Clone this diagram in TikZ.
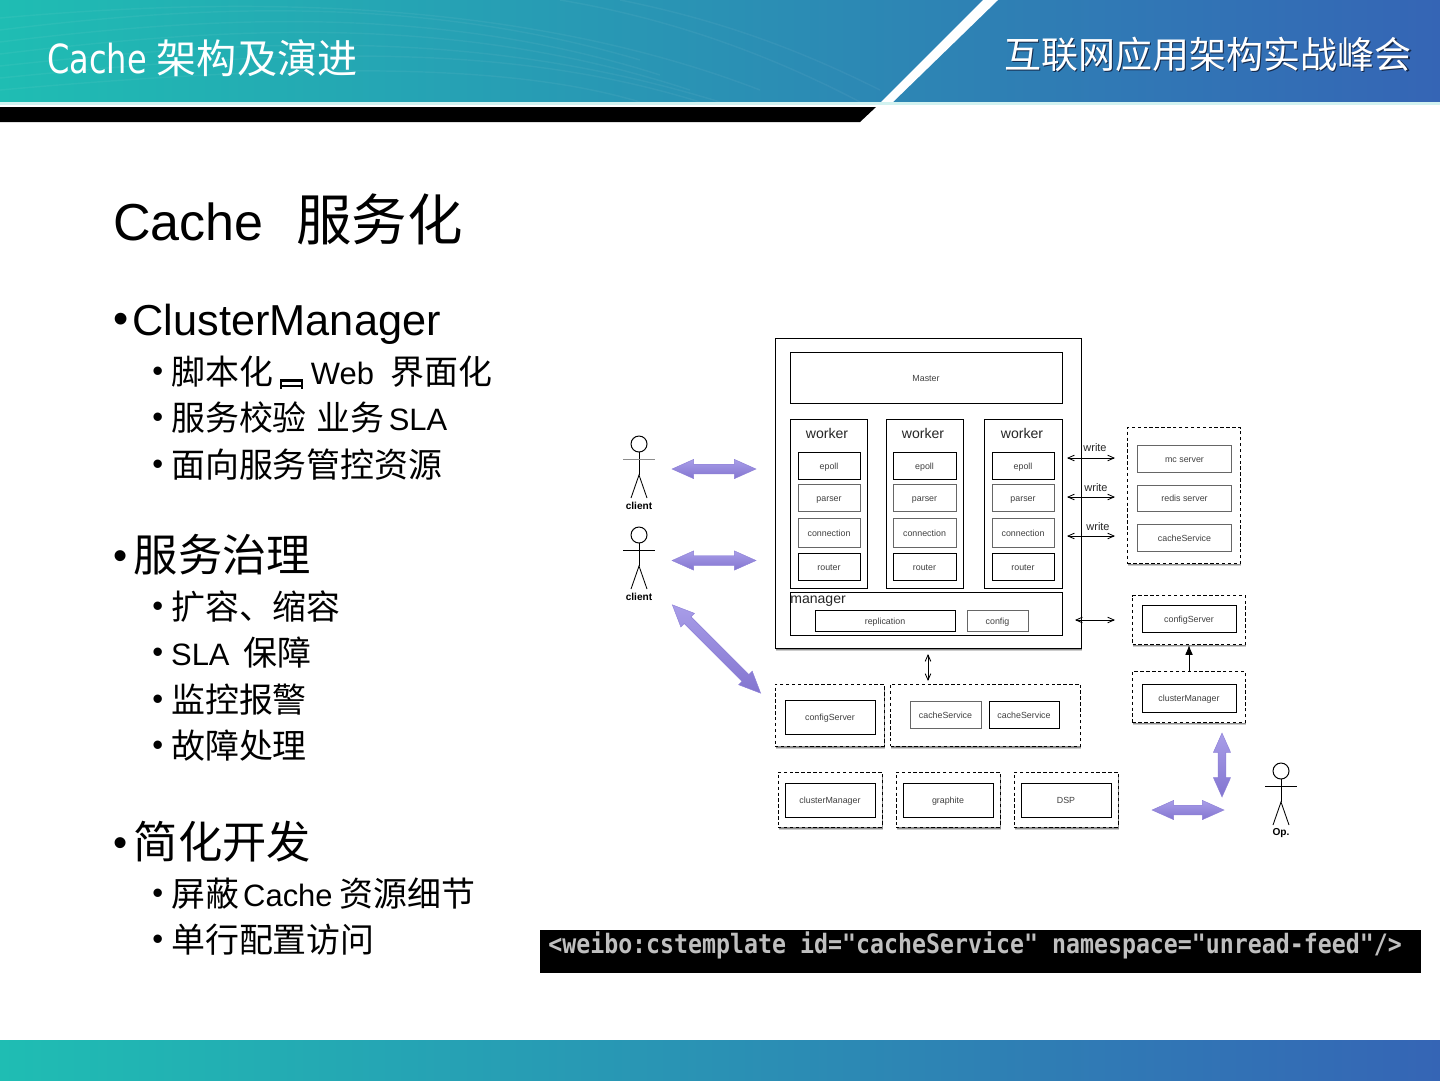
\documentclass[tikz,border=0pt]{standalone}
\usepackage{fontspec}
\setmainfont{Liberation Sans}
\newfontfamily\zh[Scale=1.097]{Noto Sans CJK SC}
\newfontfamily\headfont[FakeStretch=0.8]{DejaVu Sans}
\newfontfamily\codefont[FakeStretch=0.87]{DejaVu Sans Mono}
\usetikzlibrary{arrows.meta,shapes.arrows}
\definecolor{bandleft}{HTML}{1FBDB3}
\definecolor{bandmid}{HTML}{1AA0B8}
\definecolor{bandright}{HTML}{3565B5}
\definecolor{fatline}{HTML}{8C7FD6}
\definecolor{fattop}{HTML}{A89DE8}
\definecolor{fatbottom}{HTML}{8375D0}
\newcommand{\bulA}{\raisebox{1pt}{•}\kern3pt}
\newcommand{\bulB}{\raisebox{2pt}{•}\kern5.7pt}

\begin{document}
\begin{tikzpicture}[
  x=0.025cm,y=-0.025cm,
  wh/.style 2 args={minimum width=#1*0.025cm,minimum height=#2*0.025cm},
  titletext/.style={anchor=base west,inner sep=0pt,font=\fontsize{37}{40}\selectfont},
  lvlA/.style={anchor=base west,inner sep=0pt,font=\fontsize{28.7}{32}\selectfont},
  lvlB/.style={anchor=base west,inner sep=0pt,font=\fontsize{22}{26}\selectfont},
  box/.style={draw=black,line width=0.7pt,inner sep=0pt,text=black!75,text height=5.2pt,text depth=0pt,font=\fontsize{6.3}{8}\selectfont},
  softbox/.style={box,draw=black!60},
  softshadow/.style={
    preaction={draw=none,fill=black,fill opacity=0.2,transform canvas={xshift=0.5pt,yshift=-2.1pt}},
    preaction={draw=none,fill=black,fill opacity=0.3,transform canvas={xshift=0.5pt,yshift=-1.3pt}}},
  dashbox/.style={draw=black,dash pattern=on 2.4pt off 1.8pt,line width=0.7pt,fill=white,inner sep=0pt,softshadow},
  bigtext/.style={inner sep=0pt,text=black!85,font=\fontsize{10}{12}\selectfont},
  smalltext/.style={inner sep=0pt,text=black!85,font=\fontsize{7.8}{9}\selectfont},
  link/.style={{Straight Barb[length=4.5pt,width=4pt]}-{Straight Barb[length=4.5pt,width=4pt]},line width=0.6pt,black},
  wave/.style={white,opacity=0.05,line width=1pt},
  fatarrow/.style={shape=double arrow,inner xsep=0pt,inner ysep=3.2pt,minimum width=13.7pt,double arrow head extend=3.4pt,
    double arrow tip angle=48,draw=fatline,line width=0.3pt,top color=fattop,bottom color=fatbottom},
  pics/actor/.style 2 args={code={
    \draw[black,line width=0.7pt] (0,8)--(0,31);
    \draw[black,line width=0.7pt,fill=white] (0,0) circle [radius=8];
    \draw[#2,line width=0.7pt] (-16,15)--(16,15);
    \draw[black,line width=0.6pt] (-8,54)--(0,31)--(8,54);
    \node[inner sep=0pt,font=\fontsize{7.2}{9}\selectfont\bfseries] (-label) at (0,62) {#1};
  }},
]
\useasboundingbox (0,0) rectangle (1440,1080);
\fill[white] (0,0) rectangle (1440,1080);

% header and footer
\shade[left color=bandleft,middle color=bandmid,right color=bandright] (0,0) rectangle (1440,102);
\begin{scope}
\clip (0,0) rectangle (900,102);
\draw[wave] (0,30) .. controls (200,5) and (420,-5) .. (640,60);
\draw[wave] (0,42) .. controls (220,15) and (440,5) .. (660,75);
\draw[wave] (0,54) .. controls (240,25) and (460,15) .. (690,90);
\draw[wave] (0,66) .. controls (260,38) and (480,28) .. (720,102);
\draw[wave] (0,78) .. controls (280,50) and (500,40) .. (700,102);
\draw[wave] (0,90) .. controls (280,65) and (500,60) .. (640,102);
\draw[wave] (0,18) .. controls (200,0) and (500,-10) .. (760,90);
\draw[wave] (560,0) .. controls (680,20) and (780,60) .. (860,102);
\draw[wave] (620,0) .. controls (720,20) and (800,50) .. (880,90);
\end{scope}
\fill[black] (0,107)--(876,107)--(860,122)--(0,122)--cycle;
\fill[white] (983,0)--(998,0)--(893,102)--(881,102)--cycle;
\fill[white!80!bandleft] (0,102) rectangle (1440,105);
\shade[left color=bandleft,middle color=bandmid,right color=bandright] (0,1040) rectangle (1440,1080);
\node[anchor=base west,inner sep=0pt,text=white,font=\fontsize{26}{30}\selectfont] (headLeft) at (47,73)
  {{\headfont\fontsize{28.5}{30}\selectfont Cache}\hspace{7pt}{\zh 架构及演进}};
\node[anchor=base west,inner sep=0pt,text=black!60!bandright,font=\fontsize{24}{28}\selectfont] (headShadow) at (1005.5,69.5)
  {\zh 互联网应用架构实战峰会};
\node[anchor=base west,inner sep=0pt,text=white,font=\fontsize{24}{28}\selectfont] (headRight) at (1004,68)
  {\zh 互联网应用架构实战峰会};

% left column
\node[titletext] (slideTitle) at (113,240) {Cache\hspace{23pt}{\zh\fontsize{36}{40}\selectfont 服务化}};
\node[lvlA,font=\fontsize{30.8}{36}\selectfont] (itemCluster) at (113,335) {\bulA ClusterManager};
\node[lvlB] (itemScript) at (152,384) {\bulB{\zh 脚本化}\hspace{27pt}Web\hspace{12pt}{\zh 界面化}};
\draw[black,line width=1.5pt] (281,389)--(281,380.5)--(302,380.5)--(302,389);
\draw[black,line width=1.2pt] (281,386)--(302,386);
\node[lvlB] (itemCheck) at (152,430) {\bulB{\zh 服务校验}\hspace{7pt}{\zh 业务}\hspace{3pt}SLA};
\node[lvlB] (itemFace) at (152,477) {\bulB{\zh 面向服务管控资源}};
\node[lvlA] (itemGovern) at (113,571) {\bulA\kern1.5pt{\zh 服务治理}};
\node[lvlB] (itemScale) at (152,619) {\bulB{\zh 扩容、缩容}};
\node[lvlB] (itemSla) at (152,665) {\bulB SLA\hspace{10pt}{\zh 保障}};
\node[lvlB] (itemAlarm) at (152,712) {\bulB{\zh 监控报警}};
\node[lvlB] (itemFault) at (152,758) {\bulB{\zh 故障处理}};
\node[lvlA] (itemSimple) at (113,858) {\bulA\kern1.5pt{\zh 简化开发}};
\node[lvlB] (itemHide) at (152,906) {\bulB{\zh 屏蔽}\hspace{3pt}Cache\hspace{5pt}{\zh 资源细节}};
\node[lvlB] (itemLine) at (152,952) {\bulB{\zh 单行配置访问}};

% code strip
\fill[black] (540,930) rectangle (1421,973);
\node[anchor=base west,inner sep=0pt,text=black!25,font=\codefont\bfseries\fontsize{19}{22}\selectfont] (codeLine) at (548,953)
  {<weibo:cstemplate id="cacheService" namespace="unread-feed"/>};

% main cluster
\node[box,wh={306}{310},fill=white,softshadow] (cluster) at (928,493) {};
\node[box,wh={272}{51}] (master) at (926,377.5) {Master};
\node[box,wh={77}{169}] (workerA) at (828.5,503.5) {};
\node[box,wh={77}{169}] (workerB) at (924.5,503.5) {};
\node[box,wh={78}{169}] (workerC) at (1023,503.5) {};
\node[bigtext] (workerAtext) at (827,433) {worker};
\node[bigtext] (workerBtext) at (923,433) {worker};
\node[bigtext] (workerCtext) at (1022,433) {worker};
\node[box,wh={62}{27}] (epollA) at (829,466) {epoll};
\node[softbox,wh={62}{27}] (parserA) at (829,498) {parser};
\node[softbox,wh={62}{29}] (connA) at (829,532.5) {connection};
\node[box,wh={62}{27}] (routerA) at (829,567) {router};
\node[box,wh={63}{27}] (epollB) at (924.5,466) {epoll};
\node[softbox,wh={63}{27}] (parserB) at (924.5,498) {parser};
\node[softbox,wh={63}{29}] (connB) at (924.5,532.5) {connection};
\node[box,wh={63}{27}] (routerB) at (924.5,567) {router};
\node[box,wh={62}{27}] (epollC) at (1023,466) {epoll};
\node[softbox,wh={62}{27}] (parserC) at (1023,498) {parser};
\node[softbox,wh={62}{29}] (connC) at (1023,532.5) {connection};
\node[box,wh={62}{27}] (routerC) at (1023,567) {router};
\node[box,wh={272}{43}] (manager) at (926,613.5) {};
\node[bigtext,anchor=west] (managerText) at (790,601.5) {manager};
\node[box,wh={140}{21}] (replication) at (885,620.5) {replication};
\node[softbox,wh={61}{21}] (config) at (997.5,620.5) {config};

% right side stores
\node[dashbox,wh={113}{136}] (storeGroup) at (1184,495.5) {};
\node[softbox,wh={94}{27}] (mcServer) at (1184.5,459) {mc server};
\node[softbox,wh={94}{26}] (redisServer) at (1184.5,498) {redis server};
\node[softbox,wh={94}{27}] (storeCache) at (1184.5,538) {cacheService};
\node[dashbox,wh={113}{49}] (cfgRight) at (1189,620) {};
\node[box,wh={94}{27}] (cfgRightIn) at (1189,619) {configServer};
\node[dashbox,wh={113}{51}] (cmRight) at (1189,697) {};
\node[box,wh={94}{28}] (cmRightIn) at (1189,698) {clusterManager};

% lower groups
\node[dashbox,wh={109}{62}] (cfgLow) at (829.5,715) {};
\node[box,wh={90}{34}] (cfgLowIn) at (830,717) {configServer};
\node[dashbox,wh={190}{62}] (cacheLow) at (985.5,715) {};
\node[softbox,wh={71}{27}] (cacheLowA) at (945.5,715) {cacheService};
\node[box,wh={70}{27}] (cacheLowB) at (1024,715) {cacheService};
\node[dashbox,wh={104}{55}] (cmLow) at (830,799.5) {};
\node[box,wh={90}{34}] (cmLowIn) at (830,800) {clusterManager};
\node[dashbox,wh={104}{55}] (graphiteLow) at (948,799.5) {};
\node[box,wh={90}{34}] (graphiteIn) at (948,800) {graphite};
\node[dashbox,wh={104}{55}] (dspLow) at (1066,799.5) {};
\node[box,wh={90}{34}] (dspIn) at (1066,800) {DSP};

% thin connectors
\coordinate (writeAl) at (1067,458);
\coordinate (writeAr) at (1115,458);
\coordinate (writeBl) at (1067,497);
\coordinate (writeBr) at (1115,497);
\coordinate (writeCl) at (1067,536);
\coordinate (writeCr) at (1115,536);
\coordinate (cfgLinkl) at (1075,620);
\coordinate (cfgLinkr) at (1115,620);
\coordinate (downLinkt) at (928,654);
\coordinate (downLinkb) at (928,681);
\draw[link] (writeAl)--(writeAr);
\draw[link] (writeBl)--(writeBr);
\draw[link] (writeCl)--(writeCr);
\draw[link] (cfgLinkl)--(cfgLinkr);
\draw[link] (downLinkt)--(downLinkb);
\node[smalltext] (writeAtext) at (1095,448) {write};
\node[smalltext] (writeBtext) at (1096,488) {write};
\node[smalltext] (writeCtext) at (1098,527) {write};
\draw[-{Latex[length=7pt,width=5.5pt]},line width=0.7pt] (cmRight.north)--(cfgRight.south);

% actors and fat arrows
\pic (clientA) at (639,444) {actor={client}{black!45}};
\pic (clientB) at (639,535) {actor={client}{black}};
\pic (opUser) at (1281,771) {actor={Op.}{black}};
\node[fatarrow,minimum height=84*0.025cm] (fatA) at (714,469) {};
\node[fatarrow,minimum height=84*0.025cm] (fatB) at (714,560.5) {};
\node[fatarrow,minimum height=125*0.025cm,rotate=-45] (fatC) at (716.5,649) {};
\node[fatarrow,minimum height=72*0.025cm] (fatD) at (1188,810) {};
\node[fatarrow,minimum height=64*0.025cm,minimum width=11.5pt,inner ysep=2.6pt,rotate=90] (fatE) at (1222,765) {};
\end{tikzpicture}
\end{document}
